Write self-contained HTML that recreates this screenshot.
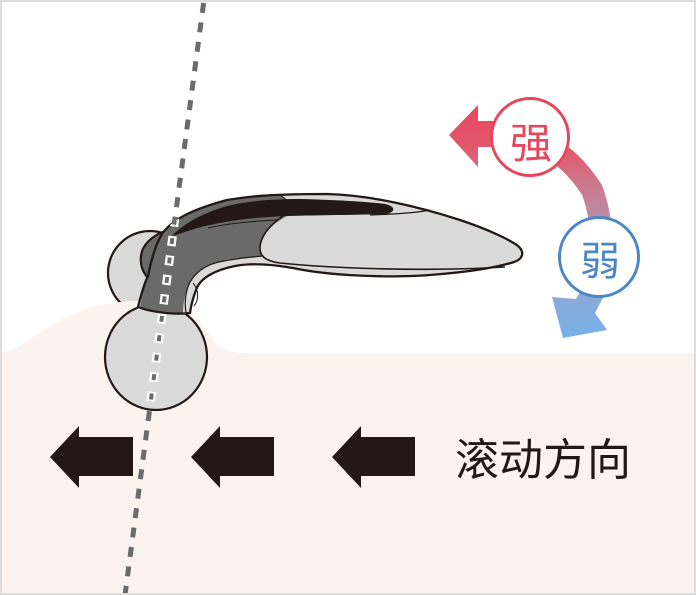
<!DOCTYPE html>
<html>
<head>
<meta charset="utf-8">
<style>
html,body{margin:0;padding:0;background:#fff;}
body{width:696px;height:595px;overflow:hidden;}
svg{display:block;}
text{font-family:"Liberation Sans","Noto Sans CJK SC",sans-serif;}
</style>
</head>
<body>
<svg width="696" height="595" viewBox="0 0 696 595" xmlns="http://www.w3.org/2000/svg">
  <defs>
    <linearGradient id="arc" gradientUnits="userSpaceOnUse" x1="0" y1="105" x2="0" y2="338">
      <stop offset="0" stop-color="#e8465b"/>
      <stop offset="0.2" stop-color="#e05a70"/>
      <stop offset="0.35" stop-color="#cc7a90"/>
      <stop offset="0.5" stop-color="#b88ea8"/>
      <stop offset="0.75" stop-color="#94a6d4"/>
      <stop offset="1" stop-color="#74b1e7"/>
    </linearGradient>
    <clipPath id="roller">
      <ellipse cx="156" cy="357" rx="51" ry="53"/>
      <path d="M138,307 C141,295 145,282 148,276 C150,265 155,245 162,234 C172,220 190,210 227,200 C250,196 275,194 327,194 C370,195 420,207 460,220 C490,230 510,240 518,246 C525,252 523,259 514,262 C495,268 470,272 430,275 C390,278 330,276 293,268 C270,264 250,263 235,266 C215,270 200,278 196,290 C193,298 191,305 190,313 C175,315 150,312 138,307 Z"/>
      <path d="M165,231 C152,236 142,245 141,256 C140,265 143,273 149,279 L160,279 Z"/>
    </clipPath>
  </defs>

  <rect x="0" y="0" width="696" height="595" fill="#ffffff"/>

  <!-- back ball -->
  <circle cx="150" cy="273" r="42" fill="#dadada" stroke="#231815" stroke-width="2.2"/>

  <!-- peach ground -->
  <path d="M0,353 C20,350 40,330 67,317 C85,308 105,302 135,301 L175,303 C195,310 205,330 215,342 C222,350 232,353 250,353 L696,353 L696,595 L0,595 Z" fill="#fdf3ee"/>

  <!-- front ball -->
  <ellipse cx="156" cy="357" rx="51" ry="53" fill="#dadada" stroke="#231815" stroke-width="2.2"/>

  <!-- back protrusion -->
  <path d="M165,231 C152,236 142,245 141,256 C140,265 143,273 149,279 L160,279 Z" fill="#6a6a6a" stroke="#231815" stroke-width="2.2" stroke-linejoin="round"/>

  <!-- handle silhouette -->
  <path d="M138,307 C141,295 145,282 148,276 C150,265 155,245 162,234 C172,220 190,210 227,200 C250,196 275,194 327,194 C370,195 420,207 460,220 C490,230 510,240 518,246 C525,252 523,259 514,262 C495,268 470,272 430,275 C390,278 330,276 293,268 C270,264 250,263 235,266 C215,270 200,278 196,290 C193,298 191,305 190,313 C175,315 150,312 138,307 Z" fill="#dadada"/>

  <!-- dark gray region -->
  <path d="M140,307 C143,290 147,278 149,270 C152,258 156,244 163,234 C173,221 192,210 227,201 C245,197 262,195 280,195 L287,200 L287,216 C272,224 262,234 260,245 C259,250 260,254 262,256 C245,257 225,259 210,264 C198,269 190,280 186,292 C184,300 183,306 183,313 C168,313 150,311 140,307 Z" fill="#6a6a6a"/>

  <!-- black stripe -->
  <path d="M172,236 C182,225 202,213 227,206 C250,201 270,199 300,199 C340,200 370,202 385,204 C396,206 396,213 385,214 C360,215 320,215 287,216 C260,217 230,220 205,226 C192,229 180,234 172,236 Z" fill="#231815"/>

  <!-- inner lines -->
  <path d="M283,216 C268,226 260,238 260,248 C260,256 265,261 280,263 C330,268 420,272 505,267" fill="none" stroke="#231815" stroke-width="1.6"/>
  <path d="M186,313 C184,300 186,290 190,282 C196,272 205,266 215,263 C235,258 255,257 262,256" fill="none" stroke="#231815" stroke-width="1.2"/>
  <path d="M208,228 C230,223 255,221 277,220" fill="none" stroke="#231815" stroke-width="1"/>
  <path d="M370,215 C395,214 415,213 430,210" fill="none" stroke="#231815" stroke-width="1.2"/>
  <path d="M280,195 L287,200" fill="none" stroke="#231815" stroke-width="0.8"/>
  <path d="M193,283 C199,290 199,300 194,306" fill="none" stroke="#231815" stroke-width="1"/>

  <!-- handle outline -->
  <path d="M138,307 C141,295 145,282 148,276 C150,265 155,245 162,234 C172,220 190,210 227,200 C250,196 275,194 327,194 C370,195 420,207 460,220 C490,230 510,240 518,246 C525,252 523,259 514,262 C495,268 470,272 430,275 C390,278 330,276 293,268 C270,264 250,263 235,266 C215,270 200,278 196,290 C193,298 191,305 190,313 C175,315 150,312 138,307 Z" fill="none" stroke="#231815" stroke-width="2.3" stroke-linejoin="round"/>

  <!-- dashed axis line -->
  <line x1="204" y1="0" x2="125" y2="595" stroke="#6b6b6b" stroke-width="5" stroke-dasharray="10 9.6" stroke-dashoffset="-3"/>
  <g clip-path="url(#roller)">
    <line x1="204" y1="0" x2="125" y2="595" stroke="#ffffff" stroke-width="8.5" stroke-dasharray="10 9.6" stroke-dashoffset="-3"/>
    <line x1="204" y1="0" x2="125" y2="595" stroke="#6b6b6b" stroke-width="4" stroke-dasharray="6 13.6" stroke-dashoffset="-5"/>
  </g>

  <!-- strength arc arrow -->
  <path d="M476,134 C530,130 565,148 592,190 C604,222 604,262 596,285" fill="none" stroke="url(#arc)" stroke-width="22"/>
  <polygon points="449,135 478,105 478,167" fill="url(#arc)"/>
  <rect x="476" y="121" width="20" height="26" fill="url(#arc)"/>
  <polygon points="552,297 576,299 584,285 607,290 595,313 607,330 563,338" fill="url(#arc)"/>

  <circle cx="530" cy="137" r="38.5" fill="#ffffff" stroke="#e6475c" stroke-width="3"/>
  <text x="531" y="158" font-size="42" fill="#e6475c" text-anchor="middle">强</text>

  <circle cx="599" cy="257" r="39.5" fill="#ffffff" stroke="#4b86c5" stroke-width="3"/>
  <text x="600" y="275" font-size="40" fill="#4b86c5" text-anchor="middle">弱</text>

  <!-- direction arrows -->
  <polygon points="50,457 79,426 79,437 133,437 133,476 79,476 79,488" fill="#231815"/>
  <polygon points="191,457 220,426 220,437 274,437 274,476 220,476 220,488" fill="#231815"/>
  <polygon points="332,457 361,426 361,437 415,437 415,476 361,476 361,488" fill="#231815"/>

  <text x="455" y="475" font-size="44" fill="#231815">滚动方向</text>

  <!-- border -->
  <rect x="1" y="1" width="694" height="593" fill="none" stroke="#dcdcdc" stroke-width="2"/>
</svg>
</body>
</html>
